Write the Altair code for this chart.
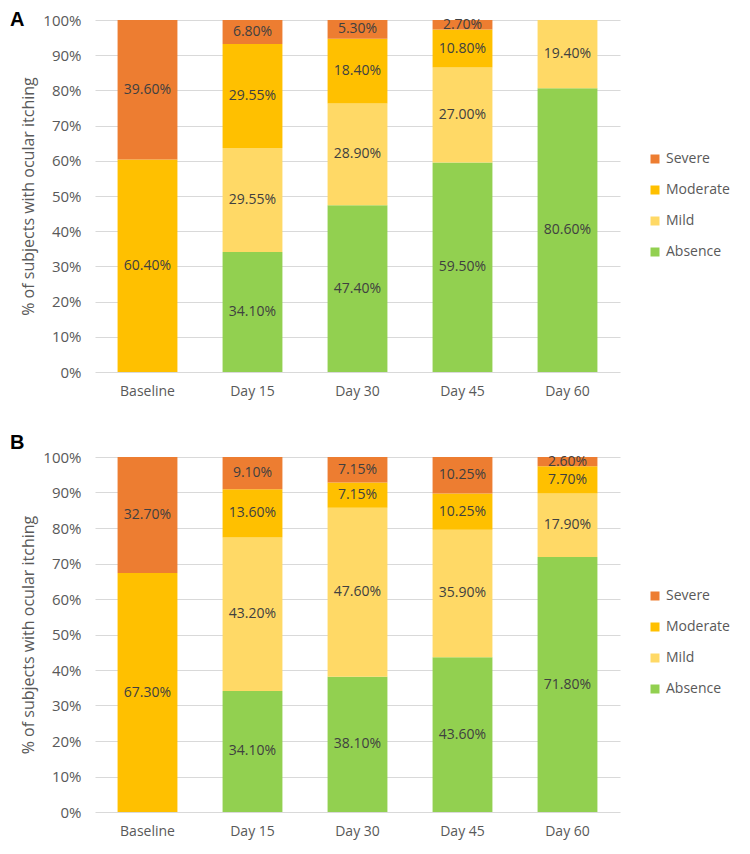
import altair as alt
import pandas as pd

days = ["Baseline", "Day 15", "Day 30", "Day 45", "Day 60"]
cats = ["Severe", "Moderate", "Mild", "Absence"]
colors = ["#ED7D31", "#FFC000", "#FFD966", "#92D050"]

# Panel A values (% per day, by category)
a_absence = [0, 34.10, 47.40, 59.50, 80.60]
a_mild = [0, 29.55, 28.90, 27.00, 19.40]
a_moderate = [60.40, 29.55, 18.40, 10.80, 0]
a_severe = [39.60, 6.80, 5.30, 2.70, 0]

# Panel B values
b_absence = [0, 34.10, 38.10, 43.60, 71.80]
b_mild = [0, 43.20, 47.60, 35.90, 17.90]
b_moderate = [67.30, 13.60, 7.15, 10.25, 7.70]
b_severe = [32.70, 9.10, 7.15, 10.25, 2.60]

FONT = "Open Sans"
GREY = "#595959"
TXT = "#404040"


def make_df(absence, mild, moderate, severe):
    rows = []
    series = {"Absence": absence, "Mild": mild, "Moderate": moderate, "Severe": severe}
    order = {"Absence": 0, "Mild": 1, "Moderate": 2, "Severe": 3}
    for cat, vals in series.items():
        for d, v in zip(days, vals):
            if v > 0:
                rows.append({"day": d, "cat": cat, "value": v, "ord": order[cat],
                             "label": f"{v:.2f}%"})
    return pd.DataFrame(rows)


def panel(df, letter, letter_y, h):
    base = alt.Chart(df).transform_stack(
        stack="value", groupby=["day"], as_=["y0", "y1"],
        sort=[alt.SortField("ord", order="ascending")]
    ).transform_calculate(mid="(datum.y0 + datum.y1) / 2")

    yaxis = alt.Axis(values=list(range(0, 101, 10)),
                     labelExpr="datum.value + '%'",
                     title="% of subjects with ocular itching",
                     titleFont=FONT, titleFontSize=16, titleFontWeight="normal",
                     titleColor=GREY, titlePadding=6,
                     grid=True, gridColor="#d9d9d9", domain=False, ticks=False,
                     labelPadding=14, labelFontSize=15, labelColor=GREY,
                     labelFont=FONT)
    xenc = alt.X("day:N", sort=days,
                 scale=alt.Scale(paddingInner=0.43, paddingOuter=0.215),
                 axis=alt.Axis(title=None, labelAngle=0, ticks=False, domain=False,
                               labelPadding=12, labelFontSize=14, labelColor=GREY,
                               labelFont=FONT))
    bars = base.mark_bar().encode(
        x=xenc,
        y=alt.Y("y0:Q", scale=alt.Scale(domain=[0, 100]), axis=yaxis),
        y2="y1:Q",
        color=alt.Color("cat:N", scale=alt.Scale(domain=cats, range=colors),
                        legend=alt.Legend(title=None, orient="none", legendX=553,
                                          legendY=132, symbolType="square",
                                          symbolSize=81, symbolStrokeWidth=0,
                                          labelFontSize=14, labelColor=GREY,
                                          labelFont=FONT, rowPadding=17, padding=0)),
    )
    texts = base.mark_text(font=FONT, fontSize=14, color=TXT).encode(
        x=alt.X("day:N", sort=days),
        y=alt.Y("mid:Q", axis=yaxis),
        text="label:N",
    )
    lab = alt.Chart(pd.DataFrame({"t": [letter]})).mark_text(
        align="left", baseline="top", font="Liberation Sans", fontSize=20,
        fontWeight="bold", color="black"
    ).encode(text="t:N", x=alt.value(-85), y=alt.value(letter_y))
    return alt.layer(bars, texts, lab).properties(width=525, height=h)


chart = alt.vconcat(
    panel(make_df(a_absence, a_mild, a_moderate, a_severe), "A", -10, 352),
    panel(make_df(b_absence, b_mild, b_moderate, b_severe), "B", -24, 355),
    spacing=35,
).resolve_scale(color="independent").configure_view(stroke=None).properties(
    padding={"left": 2, "top": 2, "right": 5, "bottom": 5}
)

chart.save("out.html", embed_options={"renderer": "svg", "actions": False})
